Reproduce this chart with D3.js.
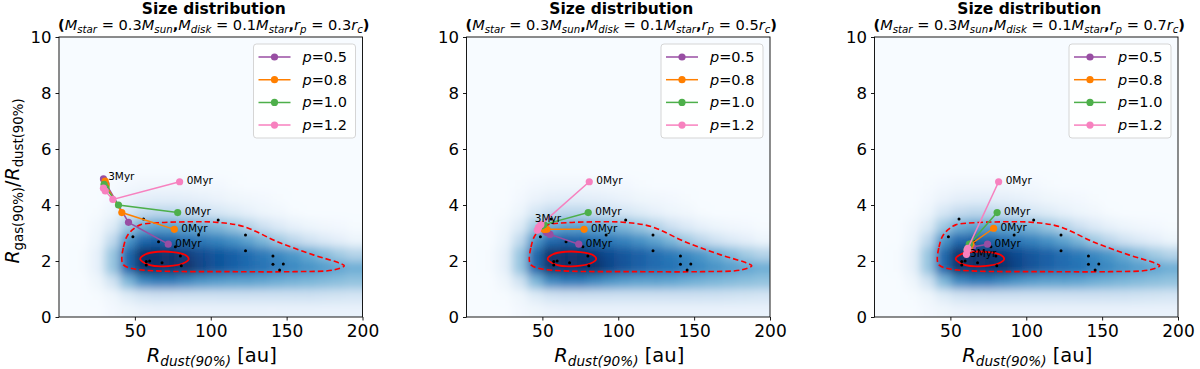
<!DOCTYPE html>
<html><head><meta charset="utf-8">
<script src="https://cdn.jsdelivr.net/npm/d3@7"></script>
<style>body{margin:0;background:#fff} svg{font-family:"DejaVu Sans",sans-serif}</style>
</head><body>
<svg id="c" width="1200" height="369"></svg>
<script>
// ---------------- data ----------------
const xBinCenters = [5,15,25,35,45,55,65,75,85,95,105,115,125,135,145,155,165,175,185,195];
const yBinCenters = [0.25,0.75,1.25,1.75,2.25,2.75,3.25,3.75,4.25,4.75];
const densityRows = [
 [0,0,0,0.02,0.04,0.06,0.07,0.07,0.07,0.07,0.07,0.07,0.07,0.07,0.07,0.07,0.07,0.07,0.07,0.07],
 [0,0,0.01,0.04,0.12,0.18,0.2,0.2,0.2,0.2,0.2,0.2,0.2,0.2,0.2,0.2,0.2,0.19,0.18,0.17],
 [0,0,0.04,0.18,0.45,0.65,0.7,0.7,0.65,0.6,0.57,0.55,0.55,0.53,0.5,0.48,0.46,0.44,0.42,0.4],
 [0,0.01,0.08,0.38,0.78,1,1,1,1,0.92,0.87,0.82,0.78,0.75,0.7,0.66,0.62,0.58,0.54,0.5],
 [0,0.01,0.08,0.38,0.78,1,1,1,0.96,0.9,0.86,0.82,0.77,0.72,0.66,0.6,0.52,0.44,0.36,0.3],
 [0,0,0.05,0.25,0.6,0.78,0.82,0.8,0.76,0.72,0.68,0.62,0.55,0.46,0.36,0.27,0.19,0.13,0.09,0.05],
 [0,0,0.03,0.12,0.36,0.5,0.55,0.55,0.52,0.5,0.45,0.38,0.3,0.2,0.13,0.08,0.05,0.03,0.02,0.01],
 [0,0,0.01,0.05,0.16,0.24,0.27,0.27,0.24,0.2,0.16,0.12,0.08,0.05,0.03,0.01,0,0,0,0],
 [0,0,0,0.02,0.06,0.09,0.1,0.1,0.09,0.08,0.06,0.04,0.03,0.02,0.01,0,0,0,0,0],
 [0,0,0,0.01,0.02,0.03,0.03,0.03,0.03,0.02,0.02,0.01,0,0,0,0,0,0,0,0]
];
const outerContour = [[41.4,2.04],[42.5,2.5],[44.7,2.87],[48.5,3.12],[53.5,3.29],[66.8,3.37],[88.8,3.40],[104.2,3.38],[121.8,3.23],[143.9,2.69],[168,2.21],[183,1.96],[188,1.83],[181,1.68],[155,1.62],[110.8,1.62],[66.8,1.64],[49,1.72],[42.5,1.86]];
const innerContour = [[53.5,2.07],[57,2.24],[65,2.33],[75,2.32],[83,2.22],[85.5,2.07],[82,1.92],[72,1.82],[60,1.85]];
const dotsX = [48.7,55.7,65.6,76.7,92,104.9,122.9,122.9,141,141,147.8,145.4,57.5,59.7,67.9,80,80.6,57.5];
const dotsY = [2.87,3.5,2.69,2.51,2.93,3.46,2.93,2.37,2.18,1.88,1.89,1.68,1.98,2.0,1.94,2.18,1.83,1.86];

const seriesLabels = ["0.5","0.8","1.0","1.2"];
const seriesColors = ["#984ea3","#ff7f00","#4daf4a","#f781bf"];
const panelRp = ["0.3","0.5","0.7"];

// tracks: 0, 1, 2, 3 Myr for p = 0.5, 0.8, 1.0, 1.2
const rp03X = [[72,45.8,31,29.3],[76,41.4,31,30.4],[78.2,39.2,31,29.7],[79.5,35.5,30.5,29.3]];
const rp03Y = [[2.6,3.38,4.75,4.93],[3.13,3.73,4.7,4.85],[3.73,4.0,4.6,4.74],[4.83,4.2,4.5,4.6]];
const rp05X = [[74,55,53,52.2],[77.5,53,51.5,51],[80.2,51,49.5,48.9],[80.9,49,47.5,46.7]];
const rp05Y = [[2.6,2.95,3.02,3.05],[3.13,3.13,3.13,3.13],[3.73,3.3,3.25,3.25],[4.83,3.3,3.2,3.1]];
const rp07X = [[74.5,64.5,63,62.6],[78.5,63.5,62.5,62],[80.8,62.5,61.5,61],[81.8,61.5,61,60.6]];
const rp07Y = [[2.6,2.5,2.47,2.45],[3.17,2.6,2.5,2.45],[3.73,2.6,2.45,2.4],[4.83,2.45,2.39,2.24]];
const threeMyrLabelX = [32.4,45,63];
const threeMyrLabelY = [4.89,3.38,2.13];

const xTicks = [50,100,150,200];
const yTicks = [0,2,4,6,8,10];

(function(){
// ---------------- layout ----------------
const svg = d3.select("#c");
const panelLeft = [59, 466.5, 874.5];
const pw = 303.5, plotTop = 37, plotBottom = 317;
const tracksX = [rp03X, rp05X, rp07X], tracksY = [rp03Y, rp05Y, rp07Y];

const defs = svg.append("defs");
defs.append("filter").attr("id","blur").attr("x","-5%").attr("y","-5%").attr("width","110%").attr("height","110%")
  .append("feGaussianBlur").attr("stdDeviation",5);

function rich(sel, segs, size){
  let off = 0;
  segs.forEach(s=>{
    const t = sel.append("tspan").text(s.t);
    const fs = s.sub ? size*0.7 : size;
    const target = s.sub ? size*0.22 : 0;
    t.attr("font-size", fs).attr("dy", target-off);
    off = target;
    if (s.it) t.attr("font-style","italic");
    t.attr("font-weight", s.bold ? "bold" : "normal");
  });
}

panelLeft.forEach((L, pi) => {
  const x = d3.scaleLinear().domain([0,200]).range([L, L+pw]);
  const y = d3.scaleLinear().domain([0,10]).range([plotBottom, plotTop]);
  const g = svg.append("g");
  const cid = "clip"+pi;
  defs.append("clipPath").attr("id",cid).append("rect")
    .attr("x",L).attr("y",plotTop).attr("width",pw).attr("height",plotBottom-plotTop);

  // heatmap
  const hg = g.append("g").attr("clip-path",`url(#${cid})`).append("g").attr("filter","url(#blur)");
  hg.append("rect").attr("x",L-30).attr("y",plotTop-30).attr("width",pw+60).attr("height",plotBottom-plotTop+60)
    .attr("fill", d3.interpolateBlues(0));
  const cells = [];
  densityRows.forEach((row, ri) => row.forEach((v, ci) => cells.push({cx:xBinCenters[ci], cy:yBinCenters[ri], v, ci, ri})));
  hg.selectAll("rect.cell").data(cells).join("rect").attr("class","cell")
    .attr("x", d => x(d.ci===0 ? d.cx-15 : d.cx-5))
    .attr("width", d => x(d.ci===xBinCenters.length-1 ? d.cx+15 : d.cx+5) - x(d.ci===0 ? d.cx-15 : d.cx-5))
    .attr("y", d => y(d.cy+0.25))
    .attr("height", d => y(d.ri===0 ? d.cy-0.75 : d.cy-0.25) - y(d.cy+0.25))
    .attr("fill", d => d3.interpolateBlues(d.v));

  // contours
  const line = d3.line().x(d=>x(d[0])).y(d=>y(d[1])).curve(d3.curveCatmullRomClosed.alpha(0.5));
  g.append("path").attr("d", line(outerContour)).attr("fill","none").attr("stroke","#ff0000")
    .attr("stroke-width",1.6).attr("stroke-dasharray","5.5,3");
  g.append("path").attr("d", line(innerContour)).attr("fill","none").attr("stroke","#ff0000").attr("stroke-width",1.8);

  // dots
  g.selectAll("circle.dot").data(dotsX.map((d,i)=>[d,dotsY[i]])).join("circle").attr("class","dot")
    .attr("cx",d=>x(d[0])).attr("cy",d=>y(d[1])).attr("r",1.5).attr("fill","#000");

  // tracks
  const tl = d3.line().x(d=>x(d[0])).y(d=>y(d[1]));
  seriesLabels.forEach((s, si) => {
    const pts = tracksX[pi][si].map((v,k)=>[v, tracksY[pi][si][k]]);
    g.append("path").attr("d", tl(pts)).attr("fill","none").attr("stroke",seriesColors[si]).attr("stroke-width",1.5);
    g.selectAll(null).data(pts).join("circle").attr("cx",d=>x(d[0])).attr("cy",d=>y(d[1])).attr("r",3.6).attr("fill",seriesColors[si]);
  });
  seriesLabels.forEach((s, si) => {
    g.append("text").attr("x", x(tracksX[pi][si][0])+7).attr("y", y(tracksY[pi][si][0])+2.5)
      .attr("font-size",10.5).text("0Myr");
  });
  g.append("text").attr("x", x(threeMyrLabelX[pi])).attr("y", y(threeMyrLabelY[pi])).attr("font-size",10.5).text("3Myr");

  // frame
  g.append("rect").attr("x",L).attr("y",plotTop).attr("width",pw).attr("height",plotBottom-plotTop)
    .attr("fill","none").attr("stroke","#000").attr("stroke-width",0.9);

  // axes
  const xa = g.append("g").attr("transform",`translate(0,${plotBottom})`)
    .call(d3.axisBottom(x).tickValues(xTicks).tickSize(3.5).tickPadding(4).tickFormat(d3.format("d")));
  xa.select(".domain").remove();
  xa.selectAll("text").attr("font-size",17).attr("font-family","DejaVu Sans").attr("fill","#000");
  const ya = g.append("g").attr("transform",`translate(${L},0)`)
    .call(d3.axisLeft(y).tickValues(yTicks).tickSize(3.5).tickPadding(4).tickFormat(d3.format("d")));
  ya.select(".domain").remove();
  ya.selectAll("text").attr("font-size",16.5).attr("font-family","DejaVu Sans").attr("fill","#000");
  g.selectAll(".tick line").attr("stroke","#000").attr("stroke-width",0.9);

  // x label
  const xl = g.append("text").attr("x", L+pw/2+1).attr("y", 362).attr("text-anchor","middle").attr("fill","#000");
  rich(xl, [{t:"R",it:true},{t:"dust(90%)",it:true,sub:true},{t:" [au]"}], 19.5);

  // titles
  g.append("text").attr("x", L+pw/2+3).attr("y", 13.5).attr("text-anchor","middle")
    .attr("font-size",15.5).attr("font-weight","bold").text("Size distribution");
  const st = g.append("text").attr("x", L+pw/2+3).attr("y", 29.5).attr("text-anchor","middle");
  rich(st, [{t:"(",bold:true},{t:"M",it:true},{t:"star",it:true,sub:true},{t:" = 0.3"},{t:"M",it:true},{t:"sun",it:true,sub:true},
            {t:",",bold:true},{t:"M",it:true},{t:"disk",it:true,sub:true},{t:" = 0.1"},{t:"M",it:true},{t:"star",it:true,sub:true},
            {t:",",bold:true},{t:"r",it:true},{t:"p",it:true,sub:true},{t:" = "+panelRp[pi]},{t:"r",it:true},{t:"c",it:true,sub:true},{t:")",bold:true}], 14.6);

  // legend
  const lx = L+pw-109, ly = plotTop+7;
  const lg = g.append("g");
  lg.append("rect").attr("x",lx).attr("y",ly).attr("width",102).attr("height",94).attr("rx",3)
    .attr("fill","#fff").attr("fill-opacity",0.85).attr("stroke","#d0d0d0").attr("stroke-width",0.9);
  seriesLabels.forEach((s, si) => {
    const yy = ly + 13 + si*22.7;
    lg.append("line").attr("x1",lx+5).attr("x2",lx+37).attr("y1",yy).attr("y2",yy).attr("stroke",seriesColors[si]).attr("stroke-width",1.5);
    lg.append("circle").attr("cx",lx+21).attr("cy",yy).attr("r",3.6).attr("fill",seriesColors[si]);
    const t = lg.append("text").attr("x",lx+49).attr("y",yy+5).attr("font-size",14.5);
    t.append("tspan").attr("font-style","italic").text("p");
    t.append("tspan").text("="+s);
  });
});

// y label (first panel only)
const yl = svg.append("text").attr("transform","translate(19,181) rotate(-90)").attr("text-anchor","middle").attr("fill","#000");
rich(yl, [{t:"R",it:true},{t:"gas(90%)",sub:true},{t:"/"},{t:"R",it:true},{t:"dust(90%)",sub:true}], 19);
})();
</script>
</body></html>
